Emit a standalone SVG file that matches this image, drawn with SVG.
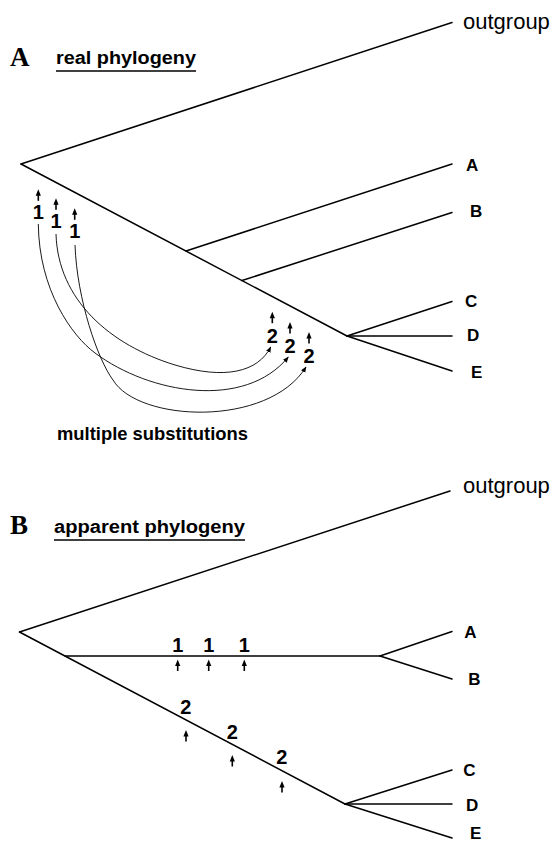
<svg xmlns="http://www.w3.org/2000/svg" xmlns:xlink="http://www.w3.org/1999/xlink" width="556" height="843" viewBox="0 0 556 843">
<style>
.br{stroke:#000;stroke-width:1.5;fill:none;stroke-linecap:round}
.cv{stroke:#000;stroke-width:0.9;fill:none}
.ul{stroke:#000;stroke-width:1.6}
.ttl{font-family:"Liberation Serif","Times New Roman",serif;font-weight:bold;font-size:27px;fill:#000}
.hd{font-family:"Liberation Sans",Arial,sans-serif;font-weight:bold;font-size:18px;fill:#000}
.og{font-family:"Liberation Sans",Arial,sans-serif;font-size:22px;fill:#000}
.tx{font-family:"Liberation Sans",Arial,sans-serif;font-weight:bold;font-size:17px;fill:#000}
.num{font-family:"Liberation Sans",Arial,sans-serif;font-weight:bold;font-size:20px;fill:#000;text-anchor:middle}
</style>
<defs>
<g id="up">
<path d="M0,0 L-2.6,6.5 L2.6,6.5 Z" fill="#000"/>
<line x1="0" y1="5" x2="0" y2="11.5" stroke="#000" stroke-width="1.6"/>
</g>
<marker id="ah" viewBox="0 0 10 10" refX="9" refY="5" markerWidth="6" markerHeight="6" markerUnits="userSpaceOnUse" orient="auto">
<path d="M0,1 L10,5 L0,9 Z" fill="#000"/>
</marker>
</defs>

<!-- Panel A -->
<g id="titleA">
<text class="ttl" x="10" y="66">A</text>
<text class="hd" x="56" y="64" textLength="140" lengthAdjust="spacingAndGlyphs">real phylogeny</text>
<line class="ul" x1="56" y1="71" x2="196" y2="71"/>
</g>
<g id="A-outgroup"><text class="og" x="463" y="29">outgroup</text></g>
<g id="A-taxonA"><text class="tx" x="466" y="171">A</text></g>
<g id="A-taxonB"><text class="tx" x="470" y="217">B</text></g>
<g id="A-taxonC"><text class="tx" x="465" y="306.5">C</text></g>
<g id="A-taxonD"><text class="tx" x="467" y="341">D</text></g>
<g id="A-taxonE"><text class="tx" x="471" y="377.5">E</text></g>

<g id="A-connectors">
<line class="br" x1="21" y1="164" x2="452" y2="22.5"/>
<line class="br" x1="21" y1="164" x2="347" y2="336"/>
<line class="br" x1="186" y1="251" x2="452" y2="164"/>
<line class="br" x1="242" y1="280.5" x2="452" y2="212.5"/>
<line class="br" x1="347" y1="336" x2="452" y2="301.5"/>
<line class="br" x1="347" y1="336" x2="452" y2="336"/>
<line class="br" x1="347" y1="336" x2="452" y2="371"/>
</g>

<g id="A-subs1">
<use xlink:href="#up" x="38.3" y="189.3"/>
<text class="num" x="38.3" y="218.5">1</text>
<use xlink:href="#up" x="56" y="198.3"/>
<text class="num" x="56" y="228">1</text>
<use xlink:href="#up" x="74.7" y="208.3"/>
<text class="num" x="74.7" y="238.3">1</text>
</g>
<g id="A-subs2">
<use xlink:href="#up" x="272.3" y="311.7"/>
<text class="num" x="272.3" y="343.3">2</text>
<use xlink:href="#up" x="290" y="322"/>
<text class="num" x="290" y="352.7">2</text>
<use xlink:href="#up" x="309" y="332"/>
<text class="num" x="309" y="363">2</text>
</g>
<g id="A-curves">
<path class="cv" marker-end="url(#ah)" d="M56,234 C58,300 110,345 175,365 C225,380 258,372 270.7,347"/>
<path class="cv" marker-end="url(#ah)" d="M38.3,224 C39,290 72,336 95,353 C150,394 245,410 288.3,357"/>
<path class="cv" marker-end="url(#ah)" d="M75,245 C77,300 98,360 113,380 C138,422 268,428 306,367"/>
</g>
<g id="A-caption"><text class="hd" x="57" y="440" textLength="191" lengthAdjust="spacingAndGlyphs">multiple substitutions</text></g>

<!-- Panel B -->
<g id="titleB">
<text class="ttl" x="10" y="534">B</text>
<text class="hd" x="54" y="533" textLength="191" lengthAdjust="spacingAndGlyphs">apparent phylogeny</text>
<line class="ul" x1="54" y1="540" x2="245" y2="540"/>
</g>
<g id="B-outgroup"><text class="og" x="463" y="493">outgroup</text></g>
<g id="B-taxonA"><text class="tx" x="464.3" y="638">A</text></g>
<g id="B-taxonB"><text class="tx" x="468.3" y="685">B</text></g>
<g id="B-taxonC"><text class="tx" x="463.3" y="775.5">C</text></g>
<g id="B-taxonD"><text class="tx" x="466" y="810.5">D</text></g>
<g id="B-taxonE"><text class="tx" x="470" y="839">E</text></g>

<g id="B-connectors">
<line class="br" x1="19.5" y1="632" x2="450" y2="491"/>
<line class="br" x1="19.5" y1="632" x2="345" y2="804"/>
<line class="br" x1="65" y1="656" x2="380" y2="656"/>
<line class="br" x1="380" y1="656" x2="452" y2="631.5"/>
<line class="br" x1="380" y1="656" x2="452" y2="679"/>
<line class="br" x1="345" y1="804" x2="452" y2="770"/>
<line class="br" x1="345" y1="804" x2="452" y2="804"/>
<line class="br" x1="345" y1="804" x2="452" y2="838"/>
</g>

<g id="B-subs1">
<text class="num" x="177.7" y="652.3">1</text>
<use xlink:href="#up" x="177.7" y="659.5"/>
<text class="num" x="208.7" y="652.3">1</text>
<use xlink:href="#up" x="208.7" y="659.5"/>
<text class="num" x="244.3" y="652.3">1</text>
<use xlink:href="#up" x="244.3" y="659.5"/>
</g>
<g id="B-subs2">
<text class="num" x="185.7" y="713.5">2</text>
<use xlink:href="#up" x="186" y="730"/>
<text class="num" x="232.3" y="739.3">2</text>
<use xlink:href="#up" x="232.3" y="755"/>
<text class="num" x="281.7" y="764">2</text>
<use xlink:href="#up" x="282" y="781"/>
</g>
</svg>
